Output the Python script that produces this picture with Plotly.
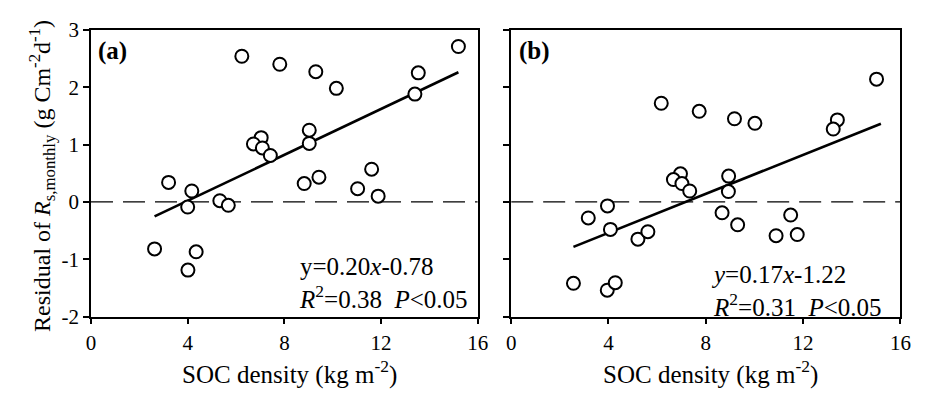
import plotly.graph_objects as go

# SOC density (kg m-2) and residual of monthly soil respiration, panel (a)
soc_a = [15.2, 6.24, 7.81, 9.30, 13.54, 10.15, 13.40, 9.03, 9.03, 7.04, 6.72, 7.09, 7.42,
         11.61, 9.43, 8.82, 3.21, 11.03, 11.88, 4.17, 5.33, 5.68, 4.00, 2.63, 4.35, 4.01]
res_a = [2.71, 2.54, 2.40, 2.27, 2.25, 1.98, 1.88, 1.25, 1.02, 1.12, 1.01, 0.94, 0.81,
         0.57, 0.43, 0.32, 0.34, 0.23, 0.10, 0.19, 0.02, -0.06, -0.09, -0.82, -0.87, -1.19]

# panel (b)
soc_b = [15.02, 6.17, 7.73, 9.18, 13.41, 10.02, 13.24, 8.94, 6.96, 6.67, 7.02, 7.34, 8.93,
         3.96, 3.17, 4.08, 5.21, 5.62, 8.67, 9.31, 11.49, 10.89, 11.76, 2.56, 3.95, 4.28]
res_b = [2.14, 1.72, 1.58, 1.45, 1.43, 1.37, 1.27, 0.45, 0.49, 0.39, 0.32, 0.19, 0.18,
         -0.07, -0.28, -0.48, -0.65, -0.52, -0.19, -0.40, -0.23, -0.59, -0.57, -1.42, -1.54, -1.41]

# fitted regressions: slope, intercept, x-range of the fitted line
fit_a = dict(slope=0.20, intercept=-0.78, x=[2.63, 15.2])
fit_b = dict(slope=0.17, intercept=-1.22, x=[2.56, 15.2])

x_ticks = [0, 4, 8, 12, 16]
x_tick_labels = ["0", "4", "8", "12", "16"]
y_ticks = [-2, -1, 0, 1, 2, 3]
y_tick_labels = ["-2", "-1", "0", "1", "2", "3"]

FONT = "Liberation Serif"

fig = go.Figure()

for i, (sx, ry, fit) in enumerate([(soc_a, res_a, fit_a), (soc_b, res_b, fit_b)]):
    xa = "x" if i == 0 else "x2"
    ya = "y" if i == 0 else "y2"
    # zero reference line
    fig.add_trace(go.Scatter(x=[0, 16], y=[0, 0], mode="lines", xaxis=xa, yaxis=ya,
                             line=dict(color="black", width=1.3, dash="22px,10px"),
                             showlegend=False, hoverinfo="skip"))
    # regression line
    fy = [fit["slope"] * v + fit["intercept"] for v in fit["x"]]
    fig.add_trace(go.Scatter(x=fit["x"], y=fy, mode="lines", xaxis=xa, yaxis=ya,
                             line=dict(color="black", width=2.6),
                             showlegend=False, hoverinfo="skip"))
    # observations
    fig.add_trace(go.Scatter(x=sx, y=ry, mode="markers", xaxis=xa, yaxis=ya,
                             marker=dict(symbol="circle", size=13, color="white",
                                         line=dict(color="black", width=2)),
                             showlegend=False))

axis_common = dict(showline=True, linecolor="black", linewidth=1.5, mirror=True,
                   ticks="outside", ticklen=6, tickwidth=1.5, tickcolor="black",
                   showgrid=False, zeroline=False,
                   tickfont=dict(family=FONT, size=21, color="black"))

fig.update_layout(
    width=933, height=400,
    margin=dict(l=0, r=0, t=0, b=0),
    paper_bgcolor="white", plot_bgcolor="white",
    font=dict(family=FONT, color="black"),
    xaxis=dict(domain=[87.5 / 933, 481 / 933], range=[0, 16], tickvals=x_ticks,
               ticktext=x_tick_labels, **axis_common),
    xaxis2=dict(domain=[515 / 933, 911 / 933], range=[0, 16], tickvals=x_ticks,
                ticktext=x_tick_labels, anchor="y2", **axis_common),
    yaxis=dict(domain=[76 / 400, 381 / 400], range=[-2, 3], tickvals=y_ticks,
               ticktext=y_tick_labels, **axis_common),
    yaxis2=dict(domain=[76 / 400, 381 / 400], range=[-2, 3], tickvals=y_ticks,
                showticklabels=False, anchor="x2", **axis_common),
)

title_font = dict(family=FONT, size=25, color="black")
stat_font = dict(family=FONT, size=25, color="black")
annotations = [
    dict(text="<b>(a)</b>", x=93 / 933, y=1 - 41 / 400, xanchor="left", yanchor="middle", font=title_font),
    dict(text="<b>(b)</b>", x=521 / 933, y=1 - 41 / 400, xanchor="left", yanchor="middle", font=title_font),
    dict(text="y=0.20<i>x</i>-0.78<br><i>R</i><sup>2</sup>=0.38&nbsp;&nbsp;<i>P</i><0.05",
         x=297 / 933, y=1 - 288 / 400, xanchor="left", yanchor="middle", align="left", font=stat_font),
    dict(text="<i>y</i>=0.17<i>x</i>-1.22<br><i>R</i><sup>2</sup>=0.31&nbsp;&nbsp;<i>P</i><0.05",
         x=716 / 933, y=1 - 297 / 400, xanchor="left", yanchor="middle", align="left", font=stat_font),
    dict(text="SOC density (kg m<sup>-2</sup>)", x=289 / 933, y=1 - 383 / 400,
         xanchor="center", yanchor="middle", font=title_font),
    dict(text="SOC density (kg m<sup>-2</sup>)", x=718 / 933, y=1 - 383 / 400,
         xanchor="center", yanchor="middle", font=title_font),
    dict(text="Residual of <i>R</i><sub>s,monthly</sub> (g Cm<sup>-2</sup>d<sup>-1</sup>)",
         x=37 / 933, y=1 - 174 / 400, xanchor="center", yanchor="middle", textangle=-90,
         font=dict(family=FONT, size=24, color="black")),
]
for a in annotations:
    fig.add_annotation(xref="paper", yref="paper", showarrow=False, **a)

fig.write_html("out.html")
